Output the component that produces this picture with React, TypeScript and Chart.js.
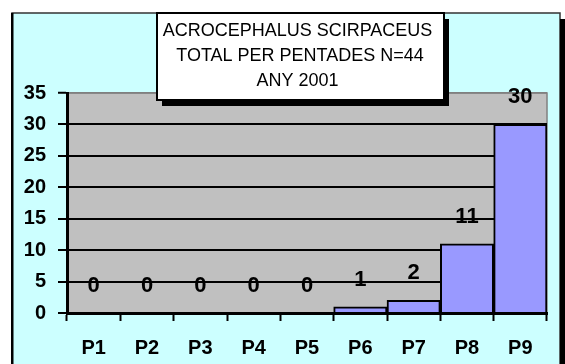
import React, { useEffect, useRef } from "react";
import { Chart, registerables } from "chart.js";

Chart.register(...registerables);

const categories = ["P1", "P2", "P3", "P4", "P5", "P6", "P7", "P8", "P9"];
const values = [0, 0, 0, 0, 0, 1, 2, 11, 30];
const titleLines = ["ACROCEPHALUS SCIRPACEUS", " TOTAL PER PENTADES N=44", "ANY 2001"];
const yMin = 0;
const yMax = 35;
const yStep = 5;

const FONT = "'Liberation Sans', Arial, sans-serif";

export default function App() {
  const ref = useRef<HTMLCanvasElement | null>(null);

  useEffect(() => {
    const canvas = ref.current;
    if (!canvas) return;

    const framePlugin = {
      id: "frame",
      beforeDraw(chart: any) {
        const { ctx, chartArea } = chart;
        ctx.save();
        // outer frame
        ctx.fillStyle = "#CCFFFF";
        ctx.fillRect(12, 13, 548, 360);
        ctx.strokeStyle = "#333";
        ctx.lineWidth = 1.5;
        ctx.strokeRect(12, 13, 548, 360);
        ctx.fillStyle = "#000";
        ctx.fillRect(11, 13, 2.5, 360);
        // right shadow
        ctx.fillRect(560, 19, 5, 350);
        // plot area
        ctx.fillStyle = "#C0C0C0";
        ctx.fillRect(chartArea.left, chartArea.top, chartArea.right - chartArea.left, chartArea.bottom - chartArea.top);
        ctx.strokeStyle = "#808080";
        ctx.lineWidth = 1.5;
        ctx.strokeRect(chartArea.left, chartArea.top, chartArea.right - chartArea.left, chartArea.bottom - chartArea.top);
        ctx.restore();
      },
    };

    const labelPlugin = {
      id: "valueLabels",
      afterDatasetsDraw(chart: any) {
        const { ctx } = chart;
        const meta = chart.getDatasetMeta(0);
        ctx.save();
        ctx.font = `bold 22px ${FONT}`;
        ctx.fillStyle = "#000";
        ctx.textAlign = "center";
        ctx.textBaseline = "middle";
        meta.data.forEach((bar: any, i: number) => {
          ctx.fillText(String(values[i]), bar.x, bar.y - 27);
        });
        ctx.restore();
      },
    };

    const titlePlugin = {
      id: "titleBox",
      afterDraw(chart: any) {
        const { ctx } = chart;
        const x = 157, y = 13, w = 287, h = 87;
        ctx.save();
        ctx.fillStyle = "#000";
        ctx.fillRect(x + 5, y + 6, w, h);
        ctx.fillStyle = "#fff";
        ctx.fillRect(x, y, w, h);
        ctx.strokeStyle = "#000";
        ctx.lineWidth = 2;
        ctx.strokeRect(x, y, w, h);
        ctx.fillStyle = "#000";
        ctx.font = `18px ${FONT}`;
        ctx.textAlign = "center";
        ctx.textBaseline = "middle";
        const cx = x + w / 2 - 3;
        titleLines.forEach((line, i) => {
          ctx.fillText(line, cx, 31 + i * 25);
        });
        ctx.restore();
      },
    };

    const chart = new Chart(canvas, {
      type: "bar",
      data: {
        labels: categories,
        datasets: [
          {
            data: values,
            backgroundColor: "#9999FF",
            borderColor: "#000",
            borderWidth: 2,
            borderSkipped: "bottom",
            barPercentage: 1,
            categoryPercentage: 1,
          },
        ],
      },
      options: {
        responsive: false,
        animation: false,
        events: [],
        layout: { padding: { top: 93, right: 18, bottom: 0, left: 0 } },
        plugins: {
          legend: { display: false },
          title: { display: false },
          tooltip: { enabled: false },
        },
        scales: {
          x: {
            grid: {
              display: true,
              offset: true,
              drawOnChartArea: false,
              drawTicks: true,
              tickLength: 8,
              tickColor: "#000",
              tickWidth: 2,
            },
            border: { display: true, color: "#000", width: 3 },
            ticks: {
              color: "#000",
              font: { family: FONT, size: 20, weight: "bold" },
              padding: 15,
              maxRotation: 0,
            },
            afterFit(scale: any) {
              scale.height = 51;
            },
          },
          y: {
            min: yMin,
            max: yMax,
            grid: {
              color: (c: any) => (c.tick && c.tick.value === yMax ? "#808080" : "#000"),
              lineWidth: (c: any) => (c.tick && c.tick.value === yMax ? 1.5 : 2),
              drawTicks: true,
              tickLength: 9,
              tickColor: "#000",
              tickWidth: 2,
            },
            border: { display: true, color: "#000", width: 3 },
            ticks: {
              stepSize: yStep,
              color: "#000",
              font: { family: FONT, size: 20, weight: "bold" },
              padding: 12,
            },
            afterFit(scale: any) {
              scale.width = 67;
            },
          },
        },
      },
      plugins: [framePlugin, labelPlugin, titlePlugin],
    });

    return () => chart.destroy();
  }, []);

  return (
    <div style={{ position: "fixed", left: 0, top: 0, width: 565, height: 364, background: "#fff" }}>
      <canvas ref={ref} width={565} height={364} style={{ display: "block" }} />
    </div>
  );
}
